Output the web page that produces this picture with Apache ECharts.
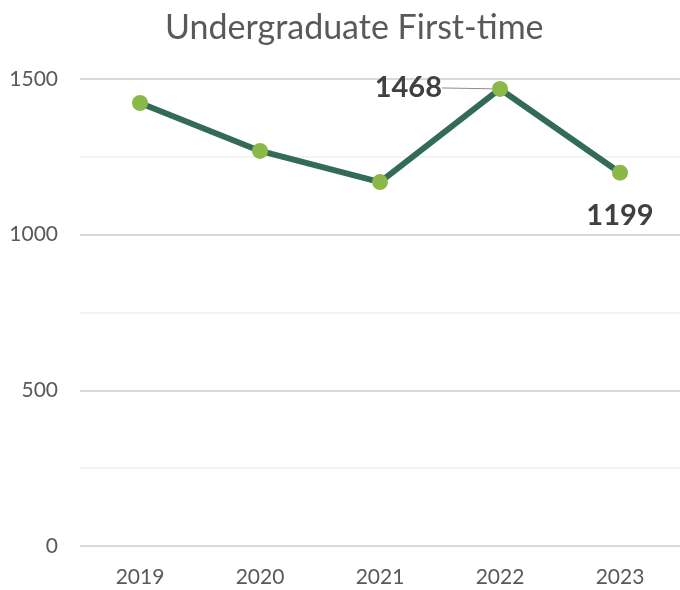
<!DOCTYPE html>
<html>
<head>
<meta charset="utf-8">
<script src="https://cdn.jsdelivr.net/npm/echarts@6/dist/echarts.min.js"></script>
<style>
  html, body { margin: 0; padding: 0; background: #fff; }
  #chart { width: 680px; height: 590px; }
</style>
</head>
<body>
<div id="chart"></div>
<script>
// values
var years = ['2019', '2020', '2021', '2022', '2023'];
var students = [1423, 1269, 1169, 1468, 1199];
var yTicks = [0, 500, 1000, 1500];

var textGrey = '#595959';
var fontName = 'Lato';

var chart = echarts.init(document.getElementById('chart'));

// only the last two points carry a label; just 2022 has a leader line
var points = students.map(function (v, i) {
    var item = { value: v };
    if (i === 3) {
        item.label = { show: true, position: 'left', distance: 10 };
        item.labelLine = { show: true, lineStyle: { color: '#8c8c8c', width: 1 } };
    } else if (i === 4) {
        item.label = { show: true, position: 'bottom', distance: 20 };
        item.labelLine = { show: false };
    }
    return item;
});

chart.setOption({
    animation: false,
    title: {
        text: 'Undergraduate First-time',
        left: 160,
        top: 6,
        textStyle: { color: textGrey, fontFamily: fontName, fontSize: 34, fontWeight: 'normal' }
    },
    grid: { left: 80, right: 0, top: 79, bottom: 44 },
    xAxis: {
        type: 'category',
        data: years,
        axisLine: { show: false },
        axisTick: { show: false },
        axisLabel: { color: textGrey, fontFamily: fontName, fontSize: 21, margin: 21 }
    },
    yAxis: {
        type: 'value',
        min: yTicks[0],
        max: yTicks[yTicks.length - 1],
        interval: 500,
        axisLabel: {
            color: textGrey, fontFamily: fontName, fontSize: 21, margin: 22,
            formatter: function (v) { return String(v); }
        },
        splitLine: { lineStyle: { color: '#d9d9d9', width: 2 } },
        minorTick: { show: false, splitNumber: 2 },
        minorSplitLine: { show: true, lineStyle: { color: '#f0f0f0', width: 1.5 } }
    },
    series: [{
        type: 'line',
        data: points,
        symbol: 'circle',
        symbolSize: 16,
        lineStyle: { color: '#336b56', width: 6 },
        itemStyle: { color: '#8cb84a' },
        label: {
            show: false,
            color: '#404040',
            fontFamily: fontName,
            fontSize: 29,
            fontWeight: 'bold'
        },
        labelLine: { show: false },
        labelLayout: function (params) {
            if (params.dataIndex === 3) {
                return { dx: -40, dy: -1 };
            }
            return {};
        }
    }]
});
</script>
</body>
</html>
